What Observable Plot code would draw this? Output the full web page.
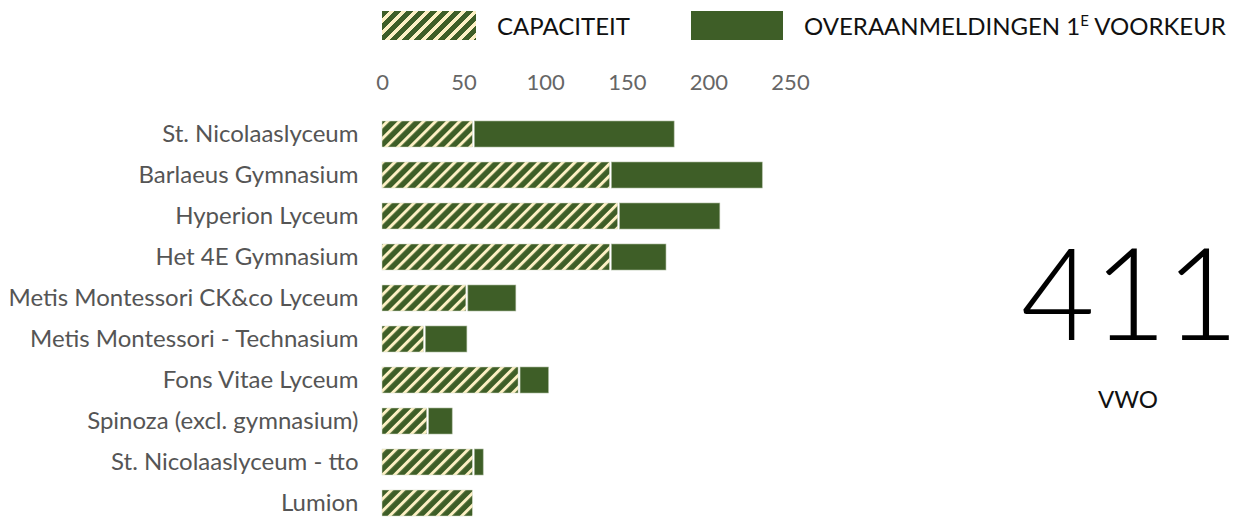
<!DOCTYPE html>
<html>
<head>
<meta charset="utf-8">
<script src="https://cdn.jsdelivr.net/npm/d3@7"></script>
<script src="https://cdn.jsdelivr.net/npm/@observablehq/plot@0.6"></script>
<style>
  html, body { margin: 0; padding: 0; background: #fff; }
  body { width: 1238px; height: 519px; position: relative; overflow: hidden; font-family: Lato, "Noto Sans", sans-serif; }
  #legend { position: relative; height: 50px; }
  .sw { position: absolute; top: 11px; height: 29px; }
  .lt { position: absolute; top: 12px; font-size: 24px; color: #111; line-height: 28px; white-space: nowrap; }
  .lt sup { font-size: 15px; vertical-align: 0; position: relative; top: -9px; }
  #big { position: absolute; left: 1129px; transform: translateX(-50%); top: 221px; font-size: 128px; font-weight: 300; line-height: 140px; color: #000; white-space: nowrap; letter-spacing: -2px; }
  #bigsub { position: absolute; left: 1128px; transform: translateX(-50%); top: 385px; font-size: 24px; line-height: 28px; color: #111; white-space: nowrap; }
</style>
</head>
<body>
<div id="legend"></div>
<div id="chart"></div>
<div id="big"></div>
<div id="bigsub"></div>
<script>
const schools = [
  "St. Nicolaaslyceum",
  "Barlaeus Gymnasium",
  "Hyperion Lyceum",
  "Het 4E Gymnasium",
  "Metis Montessori CK&co Lyceum",
  "Metis Montessori - Technasium",
  "Fons Vitae Lyceum",
  "Spinoza (excl. gymnasium)",
  "St. Nicolaaslyceum - tto",
  "Lumion"
];
const capaciteit = [56, 140, 145, 140, 52, 26, 84, 28, 56, 56];
const overaanmeldingen = [123, 93, 62, 34, 30, 26, 18, 15, 6, 0];
const xTicks = [0, 50, 100, 150, 200, 250];
const seriesLabels = ["CAPACITEIT", "OVERAANMELDINGEN 1<sup>E</sup> VOORKEUR"];
const totaal = 411;
const totaalLabel = "VWO";

const GREEN = "#3e5e27";
const CREAM = "#fdf0c4";

const rows = schools.map((s, i) => ({school: s, cap: capaciteit[i], over: overaanmeldingen[i]}));

// legend
const legend = document.getElementById("legend");
legend.innerHTML = `
  <div class="sw" style="left:382px;width:94px;background:repeating-linear-gradient(135deg, ${GREEN} 0 5.5px, ${CREAM} 5.5px 8.5px);"></div>
  <div class="lt" style="left:497px">${seriesLabels[0]}</div>
  <div class="sw" style="left:691px;width:92px;background:${GREEN};"></div>
  <div class="lt" style="left:804px">${seriesLabels[1]}</div>`;

document.getElementById("big").textContent = totaal;
document.getElementById("bigsub").textContent = totaalLabel;

const H = 469;
const svg = Plot.plot({
  width: 1238,
  height: H,
  marginTop: 70,
  marginBottom: 2,
  marginLeft: 382,
  marginRight: 448,
  style: {fontFamily: "Lato, 'Noto Sans', sans-serif", color: "#555", background: "transparent"},
  x: {domain: [0, 250], axis: null},
  y: {domain: schools, paddingInner: 0.37, paddingOuter: 0, axis: null},
  marks: [
    Plot.axisX({anchor: "top", ticks: xTicks, tickSize: 0, tickPadding: 31, fontSize: 22, fill: "#666", label: null, tickFormat: d => String(d)}),
    Plot.axisY({anchor: "left", tickSize: 0, tickPadding: 24, fontSize: 24, fill: "#555", label: null}),
    Plot.barX(rows, {y: "school", x1: 0, x2: "cap", fill: "url(#hatch)", insetRight: 1, stroke: "#d6dcc8", strokeWidth: 0.5}),
    Plot.barX(rows.filter(d => d.over > 0), {y: "school", x1: "cap", x2: d => d.cap + d.over, fill: GREEN, insetLeft: 1, stroke: "#a8b79a", strokeWidth: 0.6})
  ]
});

const defs = d3.select(svg).insert("defs", ":first-child");
const pat = defs.append("pattern")
  .attr("id", "hatch")
  .attr("patternUnits", "userSpaceOnUse")
  .attr("width", 8.5).attr("height", 8.5)
  .attr("patternTransform", "rotate(45)");
pat.append("rect").attr("width", 8.5).attr("height", 8.5).attr("fill", GREEN);
pat.append("rect").attr("width", 3).attr("height", 8.5).attr("fill", CREAM);

document.getElementById("chart").appendChild(svg);
</script>
</body>
</html>
